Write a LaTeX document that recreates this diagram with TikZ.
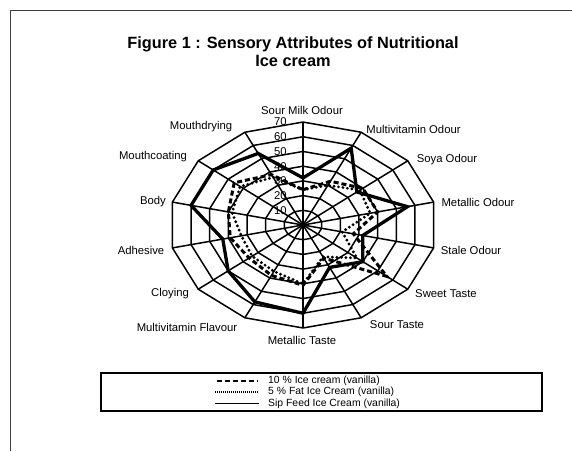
\documentclass[tikz,border=0pt]{standalone}
\usepackage{fontspec}
\setmainfont{Liberation Sans}
\begin{document}
\begin{tikzpicture}[x=1pt, y=-1pt,
    grid/.style={line width=1.5pt, line join=miter},
    tenser/.style={line width=3pt, dash pattern=on 5pt off 3pt},
    fiveser/.style={line width=3.2pt, line cap=round, dash pattern=on 0pt off 4.5pt},
    sipser/.style={line width=3.3pt, line join=miter},
    attr/.style={font=\fontsize{11.3}{13}\selectfont, inner sep=0pt},
    tick/.style={font=\fontsize{11.3}{13}\selectfont, inner sep=0pt, anchor=east},
    legtext/.style={font=\fontsize{10.4}{12}\selectfont, inner sep=0pt, anchor=west}]
\useasboundingbox (0,0) rectangle (572,451);
% frame
\draw[line width=0.8pt, black!75] (10,451) -- (10,10) -- (572,10);
% title
\node[font=\bfseries\fontsize{16.3}{18}\selectfont, anchor=base] (title1) at (293,48) {Figure 1 : Sensory Attributes of Nutritional};
\node[font=\bfseries\fontsize{16.3}{18}\selectfont, anchor=base] (title2) at (293,66) {Ice cream};

\begin{scope}[shift={(303,225)}, x=1.914pt, y=1.471pt]
    % web
    \foreach \r in {10,20,...,70} {
        \draw[grid] (90:\r) \foreach \i in {1,...,13} { -- ({90-\i*360/14}:\r) } -- cycle;
    }
    \foreach \i in {0,...,13} {
        \draw[grid] (0,0) -- ({90-\i*360/14}:70);
    }
    \foreach \r in {10,20,...,70} {
        \node[tick] (t\r) at (-8.4,\r) {\r};
    }
    % series
    \draw[tenser] (90:24) \foreach \v [count=\i] in {33,40,40,27,56,25,41,38,36,39,40,46,38} { -- ({90-\i*360/14}:\v) } -- cycle;
    \draw[fiveser] (90:24) \foreach \v [count=\i] in {30,38,36,21,36,24,40,35,34,33,38,42,36} { -- ({90-\i*360/14}:\v) } -- cycle;
    \draw[sipser] (90:32) \foreach \v [count=\i] in {58,36,56,32,40,32,60,58,50,43,60,60,54} { -- ({90-\i*360/14}:\v) } -- cycle;
\end{scope}

% attribute labels
\node[attr] (smo) at (302,110) {Sour Milk Odour};
\node[attr] (mvo) at (413.5,129) {Multivitamin Odour};
\node[attr] (soya) at (447,160) {Soya Odour};
\node[attr] (mo) at (478,202) {Metallic Odour};
\node[attr] (so) at (471,250) {Stale Odour};
\node[attr] (st) at (446,294) {Sweet Taste};
\node[attr] (sour) at (397,325) {Sour Taste};
\node[attr] (mt) at (302,340) {Metallic Taste};
\node[attr] (mvf) at (187,327) {Multivitamin Flavour};
\node[attr] (cloy) at (170,294) {Cloying};
\node[attr] (adh) at (141,250) {Adhesive};
\node[attr] (body) at (153,202) {Body};
\node[attr] (mc) at (153,157) {Mouthcoating};
\node[attr] (md) at (201,127) {Mouthdrying};

% legend
\draw[line width=1.5pt] (101,373) rectangle (542,411);
\node[legtext] (leg10) at (268,380.7) {10 \% Ice cream (vanilla)};
\node[legtext] (leg5) at (268,392) {5 \% Fat Ice Cream (vanilla)};
\node[legtext] (legsip) at (268,403.3) {Sip Feed Ice Cream (vanilla)};
\draw[line width=1.8pt, dash pattern=on 5pt off 3pt] ([xshift=-51pt]leg10.west) -- ([xshift=-10pt]leg10.west);
\draw[line width=1.8pt, dash pattern=on 1pt off 1pt] ([xshift=-53pt]leg5.west) -- ([xshift=-10pt]leg5.west);
\draw[line width=1.4pt] ([xshift=-53pt]legsip.west) -- ([xshift=-9pt]legsip.west);
\end{tikzpicture}
\end{document}
